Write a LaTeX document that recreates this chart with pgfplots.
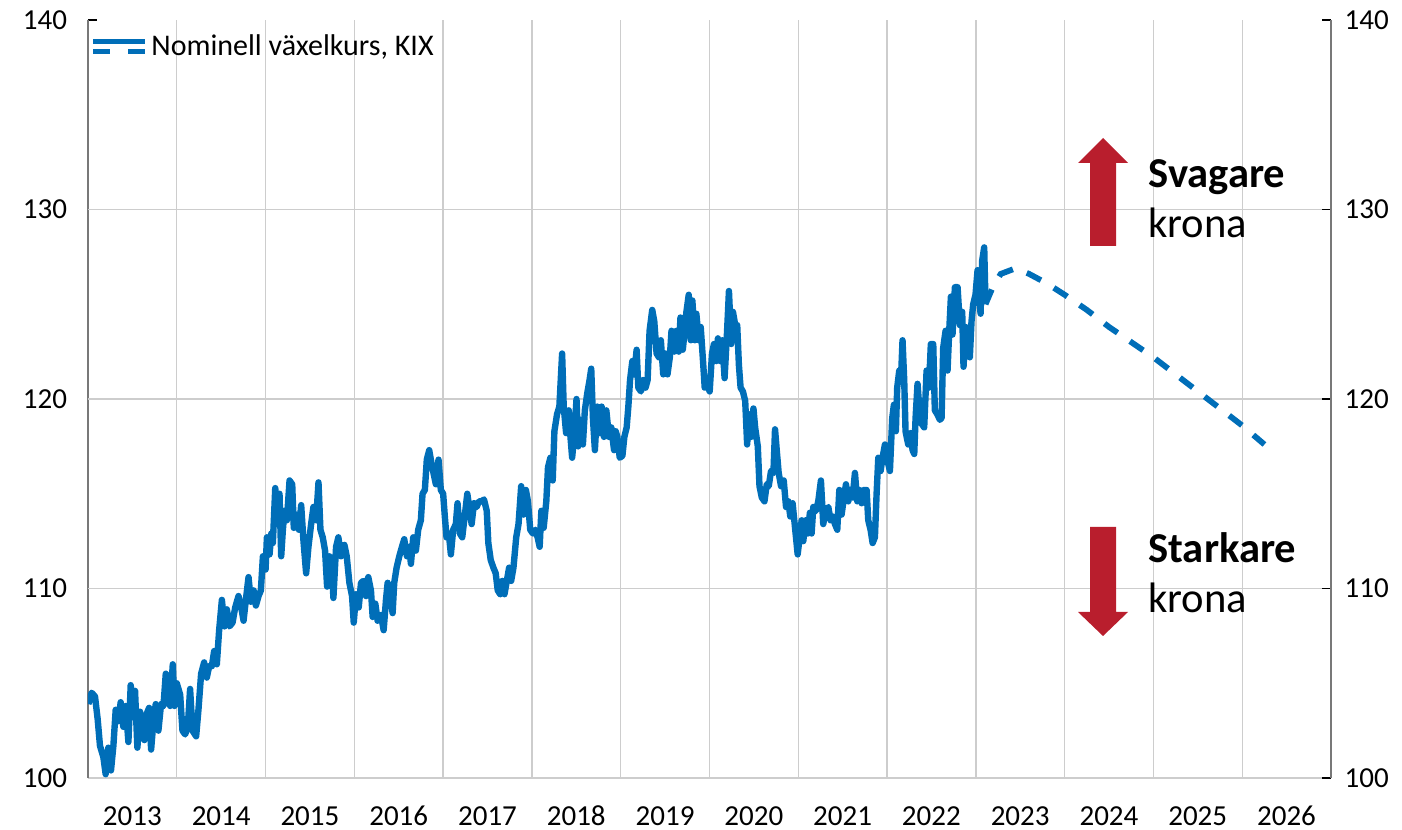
\documentclass[border=0pt]{standalone}
\usepackage{fontspec}
\setmainfont{Carlito}
\usepackage{pgfplots}
\pgfplotsset{compat=1.18}
\definecolor{kixblue}{RGB}{0,110,184}
\definecolor{arrowred}{RGB}{185,30,45}
\definecolor{gridgray}{RGB}{205,205,205}
\definecolor{axisgray}{RGB}{120,120,120}
\pgfplotstableread{
t v
2013.004 103.9
2013.041 104.5
2013.079 104.3
2013.109 103.1
2013.135 101.7
2013.173 101.1
2013.199 100.2
2013.229 101.6
2013.259 100.4
2013.286 101.7
2013.312 103.6
2013.342 103.0
2013.368 104.0
2013.398 102.7
2013.425 103.8
2013.455 101.9
2013.481 104.9
2013.511 103.2
2013.530 104.6
2013.556 101.6
2013.586 103.5
2013.613 102.5
2013.635 102.0
2013.662 103.4
2013.688 103.7
2013.711 101.5
2013.737 103.0
2013.763 103.9
2013.793 102.5
2013.823 103.9
2013.850 103.8
2013.876 105.5
2013.906 105.3
2013.925 103.8
2013.955 106.0
2013.974 103.8
2014.000 105.0
2014.038 104.4
2014.064 102.5
2014.094 102.3
2014.124 102.7
2014.150 104.7
2014.177 102.5
2014.218 102.2
2014.244 103.6
2014.274 105.5
2014.308 106.1
2014.338 105.3
2014.365 105.9
2014.395 105.9
2014.421 106.7
2014.451 106.0
2014.477 107.8
2014.508 109.4
2014.538 108.0
2014.564 108.9
2014.594 108.0
2014.628 108.2
2014.658 109.0
2014.695 109.6
2014.726 109.0
2014.752 108.3
2014.778 109.4
2014.808 110.6
2014.835 109.3
2014.865 109.9
2014.891 109.1
2014.921 109.6
2014.947 109.9
2014.970 111.7
2015.000 111.0
2015.015 112.7
2015.045 111.8
2015.064 112.9
2015.082 112.4
2015.109 115.3
2015.139 113.4
2015.157 115.0
2015.176 111.7
2015.195 113.1
2015.213 114.1
2015.240 113.6
2015.270 115.7
2015.300 115.5
2015.318 113.2
2015.345 113.9
2015.375 113.1
2015.401 114.4
2015.427 112.5
2015.457 110.8
2015.483 112.2
2015.513 113.4
2015.539 114.3
2015.569 113.6
2015.596 115.6
2015.618 113.1
2015.644 112.7
2015.670 112.0
2015.693 110.1
2015.719 111.7
2015.745 111.3
2015.764 109.5
2015.794 112.2
2015.820 112.7
2015.850 111.7
2015.888 112.3
2015.914 111.7
2015.944 110.3
2015.974 109.6
2015.993 108.2
2016.019 109.7
2016.049 109.0
2016.075 110.3
2016.101 110.4
2016.131 109.6
2016.157 110.6
2016.187 109.9
2016.206 108.5
2016.236 109.2
2016.262 108.3
2016.300 108.6
2016.330 107.8
2016.356 109.4
2016.375 110.3
2016.404 109.6
2016.431 108.7
2016.449 110.3
2016.476 111.1
2016.506 111.7
2016.536 112.2
2016.562 112.6
2016.592 111.7
2016.618 112.2
2016.637 111.3
2016.663 112.7
2016.693 112.0
2016.719 113.1
2016.749 113.6
2016.768 115.0
2016.794 115.2
2016.816 116.8
2016.843 117.3
2016.869 116.6
2016.891 116.1
2016.918 115.5
2016.948 116.8
2016.974 115.2
2017.000 115.0
2017.019 113.8
2017.038 112.7
2017.064 112.9
2017.087 111.8
2017.113 113.1
2017.143 113.4
2017.162 114.5
2017.189 112.9
2017.215 112.7
2017.245 113.9
2017.272 115.0
2017.294 114.3
2017.321 113.4
2017.347 114.5
2017.377 114.3
2017.404 114.6
2017.434 114.6
2017.460 114.7
2017.491 114.1
2017.509 112.4
2017.536 111.5
2017.566 111.1
2017.592 110.8
2017.615 109.9
2017.642 109.7
2017.668 110.4
2017.691 109.7
2017.717 110.4
2017.743 111.1
2017.766 110.4
2017.792 111.1
2017.823 112.7
2017.849 113.4
2017.879 115.4
2017.906 113.9
2017.932 115.2
2017.955 114.6
2017.981 113.1
2018.011 112.9
2018.038 113.1
2018.064 112.7
2018.087 112.2
2018.106 114.1
2018.132 113.2
2018.162 114.6
2018.181 116.4
2018.208 116.9
2018.234 115.7
2018.253 118.3
2018.283 119.2
2018.309 119.6
2018.340 122.4
2018.358 119.6
2018.385 118.2
2018.415 119.4
2018.434 118.0
2018.453 116.9
2018.483 118.5
2018.502 120.0
2018.521 117.5
2018.547 118.9
2018.574 117.6
2018.596 119.4
2018.623 120.3
2018.649 121.0
2018.668 121.6
2018.687 119.0
2018.709 117.3
2018.736 119.6
2018.762 118.2
2018.785 119.6
2018.811 118.0
2018.838 119.4
2018.868 118.0
2018.894 118.5
2018.925 117.3
2018.943 118.3
2018.962 118.0
2018.989 116.9
2019.019 117.0
2019.041 118.0
2019.067 118.5
2019.086 119.6
2019.105 121.0
2019.131 122.0
2019.153 121.3
2019.179 122.6
2019.198 120.6
2019.228 120.4
2019.254 121.0
2019.280 120.6
2019.303 121.0
2019.325 123.6
2019.355 124.7
2019.378 124.1
2019.404 122.4
2019.430 122.2
2019.452 123.1
2019.479 121.3
2019.505 122.4
2019.527 121.3
2019.553 122.2
2019.572 123.6
2019.602 122.5
2019.628 123.6
2019.654 122.5
2019.673 124.3
2019.699 122.6
2019.721 123.6
2019.740 124.6
2019.766 125.5
2019.789 123.1
2019.807 125.2
2019.834 123.1
2019.852 124.5
2019.879 123.1
2019.901 123.8
2019.927 122.0
2019.946 120.6
2019.972 120.8
2020.002 120.4
2020.028 122.4
2020.050 122.9
2020.077 122.0
2020.095 123.2
2020.121 122.0
2020.144 123.1
2020.170 121.1
2020.196 123.4
2020.219 125.7
2020.245 122.9
2020.264 124.6
2020.290 123.9
2020.312 123.9
2020.331 121.8
2020.350 120.6
2020.376 120.4
2020.402 119.9
2020.424 117.6
2020.443 119.2
2020.469 118.0
2020.495 119.5
2020.514 118.5
2020.544 117.5
2020.563 115.4
2020.589 114.8
2020.619 114.6
2020.645 115.5
2020.667 115.4
2020.693 116.2
2020.720 116.1
2020.738 118.4
2020.761 117.1
2020.779 116.1
2020.806 115.4
2020.836 115.7
2020.862 114.3
2020.888 114.6
2020.910 113.8
2020.936 114.5
2020.955 113.6
2020.974 112.7
2020.993 111.8
2021.038 113.6
2021.056 112.5
2021.083 113.6
2021.105 112.9
2021.131 114.0
2021.150 112.9
2021.169 114.3
2021.199 114.1
2021.225 114.6
2021.255 115.7
2021.281 113.4
2021.308 114.1
2021.338 114.3
2021.364 113.6
2021.386 113.8
2021.413 113.4
2021.439 113.1
2021.462 115.2
2021.488 113.9
2021.514 114.8
2021.537 115.5
2021.563 114.6
2021.589 115.2
2021.612 114.8
2021.638 116.1
2021.664 114.6
2021.687 115.2
2021.713 114.5
2021.739 115.2
2021.769 115.2
2021.788 113.6
2021.814 113.1
2021.837 112.4
2021.863 112.7
2021.882 115.0
2021.901 116.9
2021.927 116.2
2021.949 116.9
2021.976 117.6
2022.002 116.8
2022.032 116.2
2022.058 119.0
2022.077 119.7
2022.099 118.3
2022.114 120.6
2022.137 121.5
2022.156 121.0
2022.174 123.1
2022.193 121.0
2022.208 118.3
2022.238 117.6
2022.265 118.2
2022.287 117.3
2022.306 117.1
2022.321 119.0
2022.343 120.8
2022.362 119.6
2022.388 118.7
2022.418 118.5
2022.445 121.5
2022.471 120.6
2022.493 122.9
2022.520 122.9
2022.538 119.4
2022.565 119.2
2022.595 118.9
2022.614 119.0
2022.632 122.7
2022.659 123.6
2022.681 121.5
2022.700 123.6
2022.719 125.4
2022.737 123.4
2022.764 125.9
2022.794 125.9
2022.820 123.9
2022.846 124.6
2022.861 121.7
2022.884 123.8
2022.906 123.6
2022.932 122.2
2022.951 124.1
2022.970 125.0
2022.996 125.5
2023.019 126.8
2023.038 125.4
2023.053 124.5
2023.071 127.3
2023.094 128.0
2023.109 125.0
}\kixdata
\pgfplotstableread{
t v
2023.109 125.0
2023.19 125.9
2023.28 126.6
2023.45 126.9
2023.60 126.6
2023.80 126.1
2024.00 125.5
2024.25 124.7
2024.50 123.8
2024.75 123.0
2025.00 122.2
2025.25 121.3
2025.50 120.4
2025.75 119.5
2026.00 118.6
2026.25 117.6
}\kixprog
\begin{document}
\begin{tikzpicture}
\useasboundingbox (-44bp,-26bp) rectangle (657bp,389bp);
\begin{axis}[
  at={(0,0)}, anchor=south west,
  scale only axis, width=621.5bp, height=379bp,
  xmin=2013, xmax=2027, ymin=100, ymax=140,
  axis x line*=bottom, axis y line*=left,
  x axis line style={gridgray, line width=0.7bp, -},
  y axis line style={axisgray, line width=0.8bp, -},
  xtick={2013.5,2014.5,...,2026.5},
  xticklabels={2013,2014,2015,2016,2017,2018,2019,2020,2021,2022,2023,2024,2025,2026},
  minor xtick={2014,2015,...,2026},
  xminorgrids=true,
  minor grid style={gridgray, line width=0.7bp},
  xtick style={draw=none},
  minor x tick style={draw=none},
  ytick={100,110,...,140},
  ytick style={black, line width=0.8bp},
  tick align=inside,
  major tick length=4.5bp,
  extra y ticks={110,120,130},
  extra y tick labels={},
  extra y tick style={grid=major, major grid style={gridgray, line width=0.7bp}, ytick style={draw=none}},
  tick label style={font=\fontsize{14.5bp}{16bp}\selectfont, text=black},
  /pgf/number format/assume math mode=true,
  yticklabel style={xshift=-7bp},
  xticklabel style={anchor=base, yshift=-23.5bp},
]
\addplot[kixblue, line width=3.2bp, line join=round] table[x=t, y=v] {\kixdata};
\addplot[kixblue, line width=2.9bp, dash pattern=on 8bp off 7.5bp] table[x=t, y=v] {\kixprog};
\end{axis}
\begin{axis}[
  at={(0,0)}, anchor=south west,
  scale only axis, width=621.5bp, height=379bp,
  xmin=2013, xmax=2027, ymin=100, ymax=140,
  axis x line=none, axis y line*=right,
  y axis line style={axisgray, line width=0.8bp, -},
  ytick={100,110,...,140},
  ytick style={black, line width=0.8bp},
  tick align=inside,
  major tick length=4.5bp,
  tick label style={font=\fontsize{14.5bp}{16bp}\selectfont, text=black},
  /pgf/number format/assume math mode=true,
  yticklabel style={xshift=3.3bp},
]
\end{axis}
% legend
\draw[kixblue, line width=2.5bp] (2.5bp,368.2bp) -- (28.5bp,368.2bp);
\draw[kixblue, line width=2.5bp, dash pattern=on 8.5bp off 9bp] (2.5bp,363.2bp) -- (28.5bp,363.2bp);
\node[anchor=base west, inner sep=0pt, font=\fontsize{15bp}{17bp}\selectfont] at (31.5bp,361bp) {Nominell växelkurs, KIX};
% arrows
\fill[arrowred] (501bp,266bp) -- (501bp,307.5bp) -- (495bp,307.5bp) -- (507.5bp,320bp) -- (520bp,307.5bp) -- (514bp,307.5bp) -- (514bp,266bp) -- cycle;
\fill[arrowred] (501bp,125.5bp) -- (501bp,83bp) -- (495bp,83bp) -- (507.5bp,71bp) -- (520bp,83bp) -- (514bp,83bp) -- (514bp,125.5bp) -- cycle;
\node[anchor=base west, inner sep=0pt, font=\fontsize{21.3bp}{25bp}\selectfont\bfseries] at (530bp,295bp) {Svagare};
\node[anchor=base west, inner sep=0pt, font=\fontsize{21.3bp}{25bp}\selectfont] at (530bp,270bp) {krona};
\node[anchor=base west, inner sep=0pt, font=\fontsize{21.3bp}{25bp}\selectfont\bfseries] at (530bp,107.5bp) {Starkare};
\node[anchor=base west, inner sep=0pt, font=\fontsize{21.3bp}{25bp}\selectfont] at (530bp,82.5bp) {krona};
\end{tikzpicture}
\end{document}
